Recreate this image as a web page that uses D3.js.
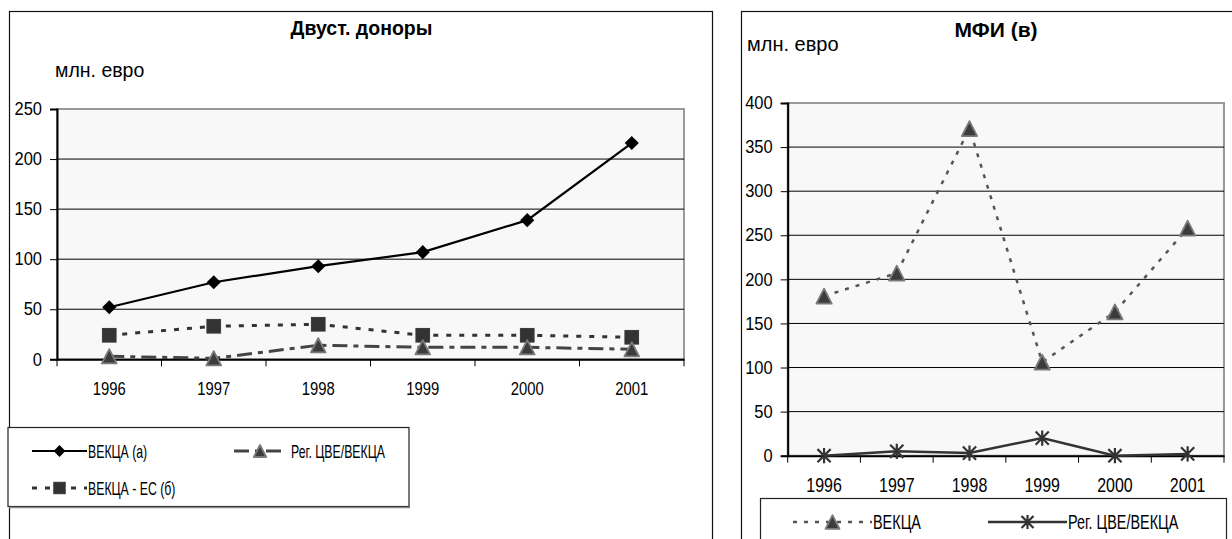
<!DOCTYPE html>
<html><head><meta charset="utf-8">
<script src="https://cdnjs.cloudflare.com/ajax/libs/d3/7.8.5/d3.min.js"></script>
<style>
body{margin:0;background:#fff;}
svg{display:block;}
text{fill:#000;}
</style></head>
<body>
<svg id="c" width="1232" height="539"></svg>
<script>
// ---------- data ----------
const years = ["1996","1997","1998","1999","2000","2001"];
// left chart: Двуст. доноры
const bilatVekca = [52, 77, 93, 107, 139, 216];     // ВЕКЦА (а)
const bilatVekcaEU = [24, 33, 35, 24, 24, 22];      // ВЕКЦА - ЕС (б)
const bilatReg = [3, 1, 14, 12, 12, 10];            // Рег. ЦВЕ/ВЕКЦА
const leftTicks = [0, 50, 100, 150, 200, 250];
// right chart: МФИ (в)
const mfiVekca = [181, 207, 371, 106, 163, 258];    // ВЕКЦА
const mfiReg = [0, 5, 3, 20, 0, 2];                 // Рег. ЦВЕ/ВЕКЦА
const rightTicks = [0, 50, 100, 150, 200, 250, 300, 350, 400];

const svg = d3.select("#c");
const SANS = "'Liberation Sans', Arial, sans-serif";

// marker drawers
function marker(g, type, x, y, k) {
  k = k || 1;
  if (type === "diamond") {
    g.append("path").attr("d", d3.symbol(d3.symbolDiamond2, 115 * k * k)())
      .attr("transform", `translate(${x},${y})`)
      .attr("fill", "#000");
  } else if (type === "square") {
    const h = 6.5 * k;
    g.append("rect").attr("x", x - h).attr("y", y - h).attr("width", 2 * h).attr("height", 2 * h)
      .attr("fill", "#333").attr("stroke", "#3a3a3a").attr("stroke-width", 1);
  } else if (type === "triangle") {
    const w = 7 * k, h = 6.8 * k;
    g.append("path").attr("d", `M${x},${y-h}L${x+w},${y+h}L${x-w},${y+h}Z`)
      .attr("fill", "#3c3c3c").attr("stroke", "#7a7a7a").attr("stroke-width", 1.8).attr("stroke-linejoin","round");
  } else if (type === "star") {
    const s = 6 * k;
    g.append("path").attr("d", `M${x-s},${y-s}L${x+s},${y+s}M${x-s},${y+s}L${x+s},${y-s}M${x},${y-s-1}L${x},${y+s+1}`)
      .attr("stroke", "#333").attr("stroke-width", 2.2).attr("fill", "none");
  }
}

function chart(cfg) {
  const g = svg.append("g");
  const x = d3.scaleBand().domain(years).range([cfg.x0, cfg.x1]);
  const y = d3.scaleLinear().domain([0, cfg.max]).range([cfg.y1, cfg.y0]);

  // plot area
  g.append("rect").attr("x", cfg.x0).attr("y", cfg.y0).attr("width", cfg.x1 - cfg.x0).attr("height", cfg.y1 - cfg.y0)
    .attr("fill", "#f8f8f8").attr("stroke", "#999").attr("stroke-width", 2);
  // gridlines
  g.append("g").selectAll("line").data(cfg.ticks.filter(t => t > 0 && t < cfg.max)).join("line")
    .attr("x1", cfg.x0).attr("x2", cfg.x1).attr("y1", d => y(d)).attr("y2", d => y(d))
    .attr("stroke", "#000").attr("stroke-width", 1);

  // y axis
  const ya = g.append("g").attr("transform", `translate(${cfg.x0},0)`)
    .call(d3.axisLeft(y).tickValues(cfg.ticks).tickSize(7).tickPadding(8).tickFormat(d3.format("d")));
  ya.select(".domain").attr("stroke", "#000").attr("stroke-width", 2);
  ya.selectAll(".tick line").attr("stroke", "#000").attr("stroke-width", 1);
  ya.selectAll(".tick text").attr("font-family", SANS).attr("font-size", 16.5).attr("fill", "#000")
    .attr("transform", "scale(1,1.08)");

  // x axis (ticks at category boundaries)
  const xa = g.append("g").attr("transform", `translate(0,${cfg.y1})`)
    .call(d3.axisBottom(x).tickSize(0).tickPadding(cfg.xPad));
  xa.select(".domain").attr("stroke", "#000").attr("stroke-width", 2);
  xa.selectAll(".tick text").attr("font-family", SANS).attr("font-size", cfg.xFont).attr("fill", "#111")
    .attr("transform", "scale(0.78,1)");
  const bounds = years.map(d => x(d)).concat([cfg.x1]);
  g.append("g").selectAll("line").data(bounds).join("line")
    .attr("x1", d => d).attr("x2", d => d).attr("y1", cfg.y1).attr("y2", cfg.y1 + 7)
    .attr("stroke", "#000").attr("stroke-width", 1);

  // series
  cfg.series.forEach(s => {
    const line = d3.line().x((d, i) => x(years[i]) + x.bandwidth() / 2).y(d => y(d));
    g.append("path").attr("d", line(s.values)).attr("fill", "none")
      .attr("stroke", s.color).attr("stroke-width", s.width).attr("stroke-dasharray", s.dash || null);
  });
  cfg.series.forEach(s => {
    const mg = g.append("g");
    s.values.forEach((v, i) => marker(mg, s.marker, x(years[i]) + x.bandwidth() / 2, y(v), cfg.mk));
  });
  return g;
}

const sVekcaA = {name: "ВЕКЦА (а)", values: bilatVekca, color: "#000", width: 2.2, marker: "diamond"};
const sVekcaEU = {name: "ВЕКЦА - ЕС (б)", values: bilatVekcaEU, color: "#333", width: 3, dash: "5,8", marker: "square"};
const sReg = {name: "Рег. ЦВЕ/ВЕКЦА", values: bilatReg, color: "#444", width: 3, dash: "15,6,5,6", marker: "triangle"};
const sMfiVekca = {name: "ВЕКЦА", values: mfiVekca, color: "#555", width: 2.5, dash: "4,7", marker: "triangle"};
const sMfiReg = {name: "Рег. ЦВЕ/ВЕКЦА", values: mfiReg, color: "#333", width: 2.5, marker: "star"};

// outer frames
svg.append("rect").attr("x", 9.5).attr("y", 11.5).attr("width", 703).attr("height", 560)
  .attr("fill", "#fff").attr("stroke", "#111").attr("stroke-width", 1.2);
svg.append("rect").attr("x", 741.5).attr("y", 11.5).attr("width", 520).attr("height", 560)
  .attr("fill", "#fff").attr("stroke", "#111").attr("stroke-width", 1.2);

chart({x0: 57, x1: 684, y0: 109, y1: 359.3, max: 250, ticks: leftTicks, xFont: 19, xPad: 22, mk: 1.05,
  series: [sVekcaA, sVekcaEU, sReg]});
chart({x0: 787.7, x1: 1224, y0: 103, y1: 455.7, max: 400, ticks: rightTicks, xFont: 20.5, xPad: 22, mk: 1.1,
  series: [sMfiVekca, sMfiReg]});

// titles and units
svg.append("text").attr("x", 361.5).attr("y", 35).attr("text-anchor", "middle")
  .attr("font-family", SANS).attr("font-weight", "bold").attr("font-size", 19.5).text("Двуст. доноры");
svg.append("text").attr("x", 55).attr("y", 77)
  .attr("font-family", SANS).attr("font-size", 19.5).text("млн. евро");
svg.append("text").attr("x", 996).attr("y", 37).attr("text-anchor", "middle")
  .attr("font-family", SANS).attr("font-weight", "bold").attr("font-size", 21).text("МФИ (в)");
svg.append("text").attr("x", 747).attr("y", 51)
  .attr("font-family", SANS).attr("font-size", 20).text("млн. евро");

// legends
function legend(box, items) {
  const g = svg.append("g");
  g.append("rect").attr("x", box.x).attr("y", box.y).attr("width", box.w).attr("height", box.h)
    .attr("fill", "#fff").attr("stroke", "#222").attr("stroke-width", 1.2);
  if (box.shadow) {
    g.append("line").attr("x1", box.x + 1).attr("x2", box.x + box.w + 1).attr("y1", box.y + box.h + 1).attr("y2", box.y + box.h + 1)
      .attr("stroke", "#888").attr("stroke-width", 1.5);
  }
  items.forEach(it => {
    const s = it.s;
    g.append("line").attr("x1", it.lx0).attr("x2", it.lx1).attr("y1", it.y).attr("y2", it.y)
      .attr("stroke", s.color).attr("stroke-width", s.width).attr("stroke-dasharray", s.dash || null);
    marker(g, s.marker, (it.lx0 + it.lx1) / 2, it.y, box.mk);
    g.append("text").attr("transform", `translate(${it.tx},${it.y}) scale(${box.sx},1)`).attr("dy", "0.36em")
      .attr("font-family", SANS).attr("font-size", box.font).text(s.name);
  });
}
legend({x: 8, y: 427.5, w: 401, h: 79, font: 18.2, sx: 0.675, mk: 0.88, shadow: true}, [
  {s: sVekcaA, lx0: 32, lx1: 87, tx: 88, y: 451},
  {s: sReg, lx0: 234, lx1: 286, tx: 291, y: 451},
  {s: sVekcaEU, lx0: 32, lx1: 87, tx: 88, y: 488}
]);
legend({x: 760.5, y: 498.5, w: 466, h: 60, font: 19.5, sx: 0.74, mk: 1, shadow: false}, [
  {s: sMfiVekca, lx0: 793, lx1: 872, tx: 873, y: 522},
  {s: sMfiReg, lx0: 988, lx1: 1067, tx: 1068, y: 522}
]);
</script>
</body></html>
